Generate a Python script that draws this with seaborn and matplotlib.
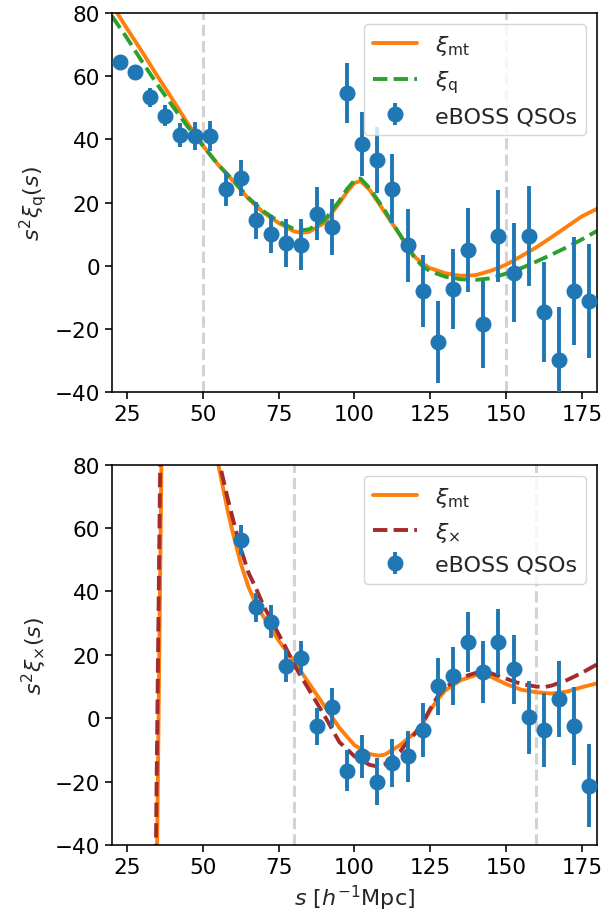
import numpy as np
import pandas as pd
import matplotlib
matplotlib.use("Agg")
import matplotlib.pyplot as plt
import seaborn as sns

# ---------------- data ----------------
s_bins = [22.5, 27.5, 32.5, 37.5, 42.5, 47.5, 52.5, 57.5, 62.5, 67.5, 72.5, 77.5,
          82.5, 87.5, 92.5, 97.5, 102.5, 107.5, 112.5, 117.5, 122.5, 127.5, 132.5,
          137.5, 142.5, 147.5, 152.5, 157.5, 162.5, 167.5, 172.5, 177.5]
xiq_data = [64.4, 61.4, 53.3, 47.5, 41.4, 41.0, 41.0, 24.3, 27.7, 14.4, 10.0, 7.2,
            6.7, 16.5, 12.2, 54.8, 38.5, 33.5, 24.4, 6.4, -8.0, -24.2, -7.3,
            5.1, -18.6, 9.4, -2.2, 9.4, -14.7, -30.0, -8.0, -11.2]
xiq_err = [2.0, 2.0, 3.0, 3.3, 3.9, 4.5, 4.7, 5.5, 5.7, 5.8, 6.0, 7.5,
           8.2, 8.4, 8.9, 9.5, 10.0, 10.5, 10.8, 11.6, 11.3, 13.0, 12.7,
           13.3, 13.7, 14.5, 15.6, 15.9, 15.9, 16.9, 17.1, 18.0]

s_bins_x = [62.5, 67.5, 72.5, 77.5, 82.5, 87.5, 92.5, 97.5, 102.5, 107.5, 112.5,
            117.5, 122.5, 127.5, 132.5, 137.5, 142.5, 147.5, 152.5, 157.5, 162.5,
            167.5, 172.5, 177.5]
xix_data = [56.3, 35.0, 30.5, 16.6, 18.9, -2.6, 3.4, -16.6, -12.0, -20.0, -14.1,
            -12.0, -3.7, 10.1, 13.4, 24.1, 14.5, 24.1, 15.5, 0.3, -3.7,
            6.1, -2.4, -21.3]
xix_err = [4.7, 4.6, 5.1, 5.3, 5.4, 5.7, 6.2, 6.5, 6.8, 7.5, 7.6,
           8.0, 8.6, 9.0, 9.1, 9.5, 9.8, 10.3, 10.9, 11.6, 11.6,
           12.1, 12.4, 13.1]

# model curves, top panel
s_mt_top = [20, 22.5, 25, 30, 35, 40, 45, 50, 55, 60, 65, 70, 75, 80, 82.5, 85,
            90, 95, 97.5, 100, 102, 105, 107.5, 110, 112.5, 115, 117.5, 120, 122.5,
            125, 130, 135, 140, 145, 150, 155, 160, 165, 170, 175, 180]
xi_mt_top = [82.6, 78.8, 75.0, 67.6, 60.0, 52.6, 45.0, 38.0, 32.0, 26.8, 21.2, 16.8,
             13.5, 10.9, 10.4, 10.7, 13.5, 19.8, 23.3, 26.2, 26.8, 24.0, 20.5, 16.9,
             13.3, 9.8, 6.0, 2.7, 0.6, -0.8, -2.4, -3.2, -3.0, -1.6, 0.3, 3.0,
             5.8, 9.0, 12.3, 15.6, 18.0]
xi_q_top = [79.0, 75.5, 72.0, 64.5, 57.3, 50.5, 44.0, 38.0, 32.0, 27.0, 21.5, 17.2,
            14.0, 11.6, 11.2, 11.5, 14.3, 20.5, 24.2, 27.0, 27.6, 24.5, 21.0, 17.5,
            13.5, 9.8, 5.8, 2.3, -0.2, -1.8, -3.5, -4.3, -4.5, -4.0, -2.5, -0.8,
            1.3, 3.5, 5.8, 8.3, 11.0]

# model curves, bottom panel
s_mt_bot = [33, 34.9, 35.6, 36.3, 37.5, 40, 44, 47, 50, 52, 53.5, 55.1, 57, 58.4,
            60, 62.5, 65, 67.5, 70, 75, 80, 85, 90, 95, 100, 105, 108, 110, 115,
            117.5, 120, 122.5, 125, 127.5, 130, 135, 140, 142.5, 145, 150, 155,
            160, 165, 170, 175, 180]
xi_mt_bot = [-200, -40, 20, 80, 200, 400, 220, 150, 115, 99, 89, 80, 71, 64.5,
             58, 48.8, 41.5, 36, 32, 24.5, 18, 11, 4, -3, -8.5, -11.3, -11.8,
             -11.5, -8.5, -6.5, -4.5, -1.8, 2.5, 6.0, 8.8, 12.0, 13.6, 13.8, 13.1,
             10.8, 9.0, 8.2, 7.8, 8.4, 9.8, 11.0]
s_x_bot = [32.5, 34.5, 35.2, 35.9, 37, 40, 44, 48, 51, 53.5, 55.6, 58, 60, 62.5,
           65, 67.5, 70, 75, 77.5, 80, 85, 90, 95, 100, 105, 107.5, 110, 115,
           117.5, 120, 122.5, 125, 127.5, 130, 135, 140, 142.5, 145, 150, 155,
           160, 163, 165, 170, 175, 180]
xi_x_bot = [-200, -40, 20, 80, 200, 400, 220, 135, 105, 90, 80, 70, 62.5, 53.5,
            46, 41, 35.5, 26.5, 22, 17, 9, 1, -7.5, -12, -14.7, -15.2, -14.5,
            -10.5, -7.5, -4.8, -1.5, 3, 7, 9.8, 12.8, 14.3, 14.6, 14.2, 12.5,
            10.8, 10.0, 9.9, 10.3, 12.0, 14.3, 17.0]

vlines_top = [50, 150]
vlines_bot = [80, 160]
xticks = [25, 50, 75, 100, 125, 150, 175]
yticks = [-40, -20, 0, 20, 40, 60, 80]

# ---------------- style ----------------
sns.set_style("ticks")
plt.rcParams.update({
    "font.family": ["DejaVu Sans"],
    "mathtext.fontset": "dejavusans",
    "axes.linewidth": 1.15,
    "xtick.major.width": 1.15,
    "ytick.major.width": 1.15,
    "xtick.major.size": 5,
    "ytick.major.size": 5,
    "xtick.labelsize": 15.5,
    "ytick.labelsize": 15.5,
    "axes.labelsize": 16,
    "legend.fontsize": 16,
    "axes.edgecolor": "black",
    "xtick.color": "black",
    "ytick.color": "black",
})

ORANGE = "#ff7f0e"
GREEN = "#2ca02c"
BLUE = "#1f77b4"
BROWN = "#a52a2a"
GREY = "#d3d3d3"
LW = 2.8

fig = plt.figure(figsize=(6.03, 9.2), dpi=100)
ax1 = fig.add_axes([0.1857, 0.5728, 0.8043, 0.412])
ax2 = fig.add_axes([0.1857, 0.0804, 0.8043, 0.4134])


def panel(ax, vl, s_a, y_a, s_b, y_b, lab_b, col_b, sd, yd, ed, ylabel):
    for v in vl:
        ax.axvline(v, color=GREY, ls="--", lw=2.2, zorder=1)
    df_a = pd.DataFrame({"s": s_a, "v": y_a})
    df_b = pd.DataFrame({"s": s_b, "v": y_b})
    sns.lineplot(data=df_a, x="s", y="v", ax=ax, color=ORANGE, lw=LW,
                 label=r"$\xi_{\rm mt}$", sort=False)
    sns.lineplot(data=df_b, x="s", y="v", ax=ax, color=col_b, lw=LW,
                 label=lab_b, sort=False, linestyle="--")
    ax.errorbar(sd, yd, yerr=ed, fmt="o", color=BLUE, ms=10.5, elinewidth=2.8,
                capsize=0, label="eBOSS QSOs", zorder=3)
    ax.set_xlim(20, 180)
    ax.set_ylim(-40, 80)
    ax.set_xticks(xticks)
    ax.set_yticks(yticks)
    ax.set_ylabel(ylabel)
    ax.set_xlabel("")
    ax.legend(loc="upper right", handlelength=2.0, framealpha=0.8,
              borderaxespad=0.5)


panel(ax1, vlines_top, s_mt_top, xi_mt_top, s_mt_top, xi_q_top,
      r"$\xi_{\rm q}$", GREEN, s_bins, xiq_data, xiq_err,
      r"$s^2\xi_{\rm q}(s)$")
panel(ax2, vlines_bot, s_mt_bot, xi_mt_bot, s_x_bot, xi_x_bot,
      r"$\xi_{\times}$", BROWN, s_bins_x, xix_data, xix_err,
      r"$s^2\xi_{\times}(s)$")
ax2.set_xlabel(r"$s\ [h^{-1}{\rm Mpc}]$")

fig.savefig("out.png", dpi=100)
